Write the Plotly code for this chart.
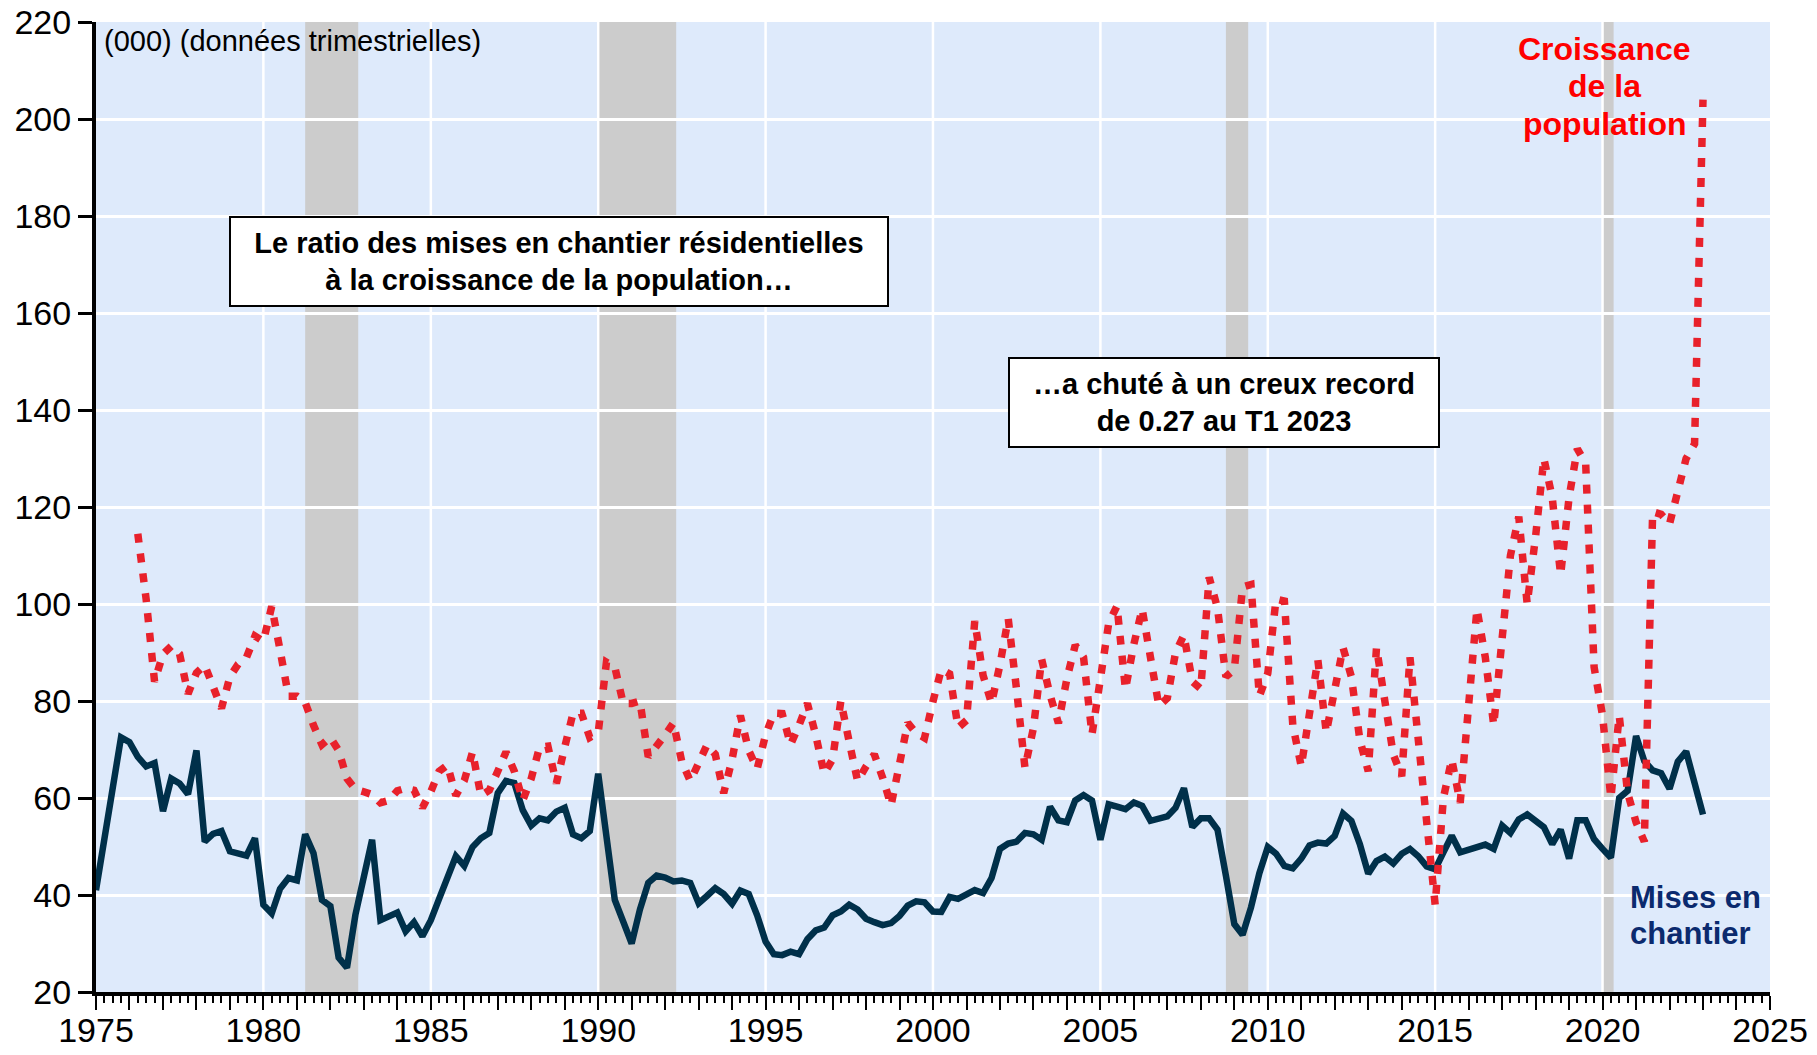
import pandas as pd
import plotly.graph_objects as go

# ---------------- data ----------------
# Housing starts, thousands, quarterly 1975Q1 .. 2023Q1
housing_starts = [
    41, 51.8, 61.8, 72.5,      # 1975
    71.5, 68.5, 66.5, 67.2,    # 1976
    57.3, 64, 63, 60.8,        # 1977
    69.8, 51, 52.6, 53.2,      # 1978
    49, 48.5, 48.1, 51.7,      # 1979
    38, 36.2, 41.3, 43.5,      # 1980
    43, 52.5, 48.6, 39,        # 1981
    37.7, 27.1, 25, 35.9,      # 1982
    43.2, 51.4, 34.8, 35.6,    # 1983
    36.4, 32.5, 34.4, 31.5,    # 1984
    34.8, 39.2, 44, 48,        # 1985
    46, 49.9, 51.7, 52.8,      # 1986
    61, 63.5, 63.1, 57.5,      # 1987
    54.3, 55.8, 55.4, 57.2,    # 1988
    58, 52.5, 51.7, 53.2,      # 1989
    65, 51, 39, 34.5,          # 1990
    30, 37, 42.5, 44,          # 1991
    43.6, 42.8, 43, 42.5,      # 1992
    38.3, 39.8, 41.4, 40.2,    # 1993
    38.2, 40.9, 40.2, 35.8,    # 1994
    30.4, 27.8, 27.6, 28.3,    # 1995
    27.8, 30.9, 32.7, 33.3,    # 1996
    35.8, 36.6, 38.0, 37.0,    # 1997
    35.1, 34.4, 33.8, 34.2,    # 1998
    35.7, 37.8, 38.7, 38.5,    # 1999
    36.6, 36.5, 39.6, 39.2,    # 2000
    40, 41, 40.4, 43.5,        # 2001
    49.5, 50.6, 51, 52.8,      # 2002
    52.5, 51.4, 58.2, 55.4,    # 2003
    55, 59.5, 60.6, 59.5,      # 2004
    51.4, 58.7, 58.2, 57.7,    # 2005
    59.1, 58.4, 55.3, 55.7,    # 2006
    56.2, 58, 62, 54,          # 2007
    55.8, 55.8, 53.5, 44,      # 2008
    34, 31.8, 37.4, 44.5,      # 2009
    49.9, 48.5, 46, 45.5,      # 2010
    47.5, 50.2, 50.8, 50.6,    # 2011
    52.2, 56.8, 55.3, 50.5,    # 2012
    44.4, 47, 47.9, 46.5,      # 2013
    48.5, 49.5, 48, 45.9,      # 2014
    45.3, 48.8, 52.2, 48.8,    # 2015
    49.4, 50, 50.4, 49.5,      # 2016
    54.3, 52.8, 55.6, 56.6,    # 2017
    55.3, 54, 50.5, 53.5,      # 2018
    47.5, 55.4, 55.4, 51.5,    # 2019
    49.5, 47.7, 60, 61.5,      # 2020
    72.8, 67.6, 65.7, 65.1,    # 2021
    61.9, 67.5, 69.6, 63,      # 2022
    56.6,                      # 2023
]
starts_first_quarter = "1975-01-01"

# Population growth, thousands, quarterly 1976Q2 .. 2023Q1
population_growth = [
    114.5, 101, 84,            # 1976 (Q2-Q4)
    89.7, 91.3, 89.7, 81.5,    # 1977
    85.8, 87.4, 83, 78.5,      # 1978
    85, 87.6, 89, 93.4,        # 1979
    92.3, 99.5, 90.5, 81,      # 1980
    81, 79.7, 75, 71,          # 1981
    72.5, 69.8, 64, 61.8,      # 1982
    61.3, 60.7, 59, 59.5,      # 1983
    61.5, 62, 61.6, 58,        # 1984
    61.3, 65.5, 66.8, 60.5,    # 1985
    63.6, 69.5, 60.5, 61.6,    # 1986
    65.5, 69.5, 65.5, 59.5,    # 1987
    64, 70.5, 70.7, 63,        # 1988
    70.5, 77.5, 77.5, 72.5,    # 1989
    73.5, 88, 87, 79.5,        # 1990
    79.5, 80, 68.5, 70.5,      # 1991
    73, 75.5, 67.5, 63.5,      # 1992
    67, 70.9, 69, 61,          # 1993
    68, 77, 69.8, 66,          # 1994
    73, 77.5, 77.4, 71,        # 1995
    75, 79.5, 73, 65,          # 1996
    68, 80, 71.6, 63.5,        # 1997
    66.5, 69, 64.2, 58.5,      # 1998
    67, 75.5, 73.4, 72.4,      # 1999
    79.9, 86.5, 85.6, 74.5,    # 2000
    76, 96.5, 85.3, 79.5,      # 2001
    87.5, 97, 82.4, 66.2,      # 2002
    74.4, 88.6, 81.3, 75.4,    # 2003
    84.6, 91.5, 89, 73.1,      # 2004
    84.6, 96, 99.6, 82.4,      # 2005
    91.7, 99, 89, 79,          # 2006
    80.6, 90, 93.6, 84,        # 2007
    82.5, 105.5, 99.2, 85,     # 2008
    86.5, 103.5, 104, 81,      # 2009
    85.7, 101, 100.6, 75,      # 2010
    66.5, 77.5, 88.5, 73.5,    # 2011
    82, 91, 85, 72,            # 2012
    65.5, 91, 80, 69,          # 2013
    64.5, 89, 72, 55,          # 2014
    38, 60, 68, 59,            # 2015
    78, 99, 89, 75,            # 2016
    93, 110, 118, 100,         # 2017
    114, 130, 122, 106,        # 2018
    122, 132, 129, 87,         # 2019
    77, 60, 77, 61,            # 2020
    55, 51, 119, 118.5,        # 2021
    116.5, 123, 130, 133,      # 2022
    204,                       # 2023
]
population_first_quarter = "1976-04-01"

# Recession periods (shaded)
recession_start = ["1981-04-01", "1990-01-01", "2008-10-01", "2020-01-01"]
recession_end = ["1982-11-01", "1992-05-01", "2009-06-01", "2020-05-01"]

# Axis ticks
tick_years = list(range(1975, 2026))
label_years = list(range(1975, 2026, 5))
grid_years = list(range(1980, 2025, 5))
y_ticks = list(range(20, 221, 20))

# ---------------- figure ----------------
FONT = "Liberation Sans, Arial, sans-serif"
BLUE = "#00304a"
RED = "#e8212b"

x_starts = pd.date_range(starts_first_quarter, periods=len(housing_starts), freq="QS")
x_pop = pd.date_range(population_first_quarter, periods=len(population_growth), freq="QS")

fig = go.Figure()
fig.add_trace(go.Scatter(
    x=x_starts, y=housing_starts, mode="lines",
    line=dict(color=BLUE, width=6.5), name="Mises en chantier", showlegend=False,
))
fig.add_trace(go.Scatter(
    x=x_pop, y=population_growth, mode="lines",
    line=dict(color=RED, width=7.5, dash="9px,11px"), name="Croissance de la population",
    showlegend=False,
))

shapes = []
for s, e in zip(recession_start, recession_end):
    shapes.append(dict(type="rect", xref="x", yref="paper", x0=s, x1=e, y0=0, y1=1,
                       fillcolor="#cccccc", line=dict(width=0), layer="below"))
for yr in grid_years:
    shapes.append(dict(type="line", xref="x", yref="paper", x0=f"{yr}-01-01", x1=f"{yr}-01-01",
                       y0=0, y1=1, line=dict(color="white", width=2.5), layer="below"))


def label(text, x, y, size, color, xanchor="center"):
    return dict(text=f"<b>{text}</b>", xref="paper", yref="paper", x=x, y=y,
                xanchor=xanchor, yanchor="middle", showarrow=False,
                font=dict(family=FONT, size=size, color=color))


annotations = [
    dict(text="(000) (données trimestrielles)", xref="paper", yref="paper",
         x=0.0036, y=0.9808, xanchor="left", yanchor="middle", showarrow=False,
         font=dict(family=FONT, size=29, color="black")),
    dict(text="<b>Le ratio des mises en chantier résidentielles<br>à la croissance de la population…</b>",
         xref="paper", yref="paper", x=0.2766, y=0.7536, xanchor="center", yanchor="middle",
         showarrow=False, bgcolor="white", bordercolor="black", borderwidth=2, borderpad=0,
         width=656, height=87, align="center",
         font=dict(family=FONT, size=29, color="black")),
    dict(text="<b>…a chuté à un creux record<br>de 0.27 au T1 2023</b>",
         xref="paper", yref="paper", x=0.6741, y=0.6082, xanchor="center", yanchor="middle",
         showarrow=False, bgcolor="white", bordercolor="black", borderwidth=2, borderpad=0,
         width=428, height=87, align="center",
         font=dict(family=FONT, size=29, color="black")),
    label("Croissance", 0.9014, 0.9725, 32, "#ff0000"),
    label("de la", 0.9014, 0.9342, 32, "#ff0000"),
    label("population", 0.9014, 0.8948, 32, "#ff0000"),
    label("Mises en", 0.9152, 0.0979, 31, "#0b2a6e", "left"),
    label("chantier", 0.9152, 0.0598, 31, "#0b2a6e", "left"),
]

fig.update_layout(
    width=1817, height=1055,
    margin=dict(l=96, r=47, t=22, b=63, pad=0, autoexpand=False),
    paper_bgcolor="white", plot_bgcolor="#deeafb",
    font=dict(family=FONT, color="black"),
    shapes=shapes, annotations=annotations, showlegend=False,
)
fig.update_xaxes(
    type="date", range=["1975-01-01", "2025-01-01"], automargin=False,
    tickmode="array",
    tickvals=[f"{y}-01-01" for y in tick_years],
    ticktext=[str(y) if y in label_years else "" for y in tick_years],
    ticks="outside", ticklen=14, tickwidth=2, tickcolor="black",
    ticklabelstandoff=-9,
    tickfont=dict(family=FONT, size=34, color="black"),
    showgrid=False, zeroline=False,
    showline=True, linecolor="black", linewidth=4,
    minor=dict(dtick="M3", tick0="1975-01-01", ticks="outside", ticklen=7, tickwidth=2,
               tickcolor="black", showgrid=False),
)
fig.update_yaxes(
    range=[20, 220], tickmode="array", tickvals=y_ticks, automargin=False,
    ticks="outside", ticklen=14, tickwidth=3, tickcolor="black",
    tickfont=dict(family=FONT, size=34, color="black"),
    showgrid=True, gridcolor="white", gridwidth=2.5, zeroline=False,
    showline=True, linecolor="black", linewidth=4,
)

fig.write_html("out.html", config={"displayModeBar": False},
               post_script="document.body.style.margin='0';document.body.style.overflow='hidden';")
